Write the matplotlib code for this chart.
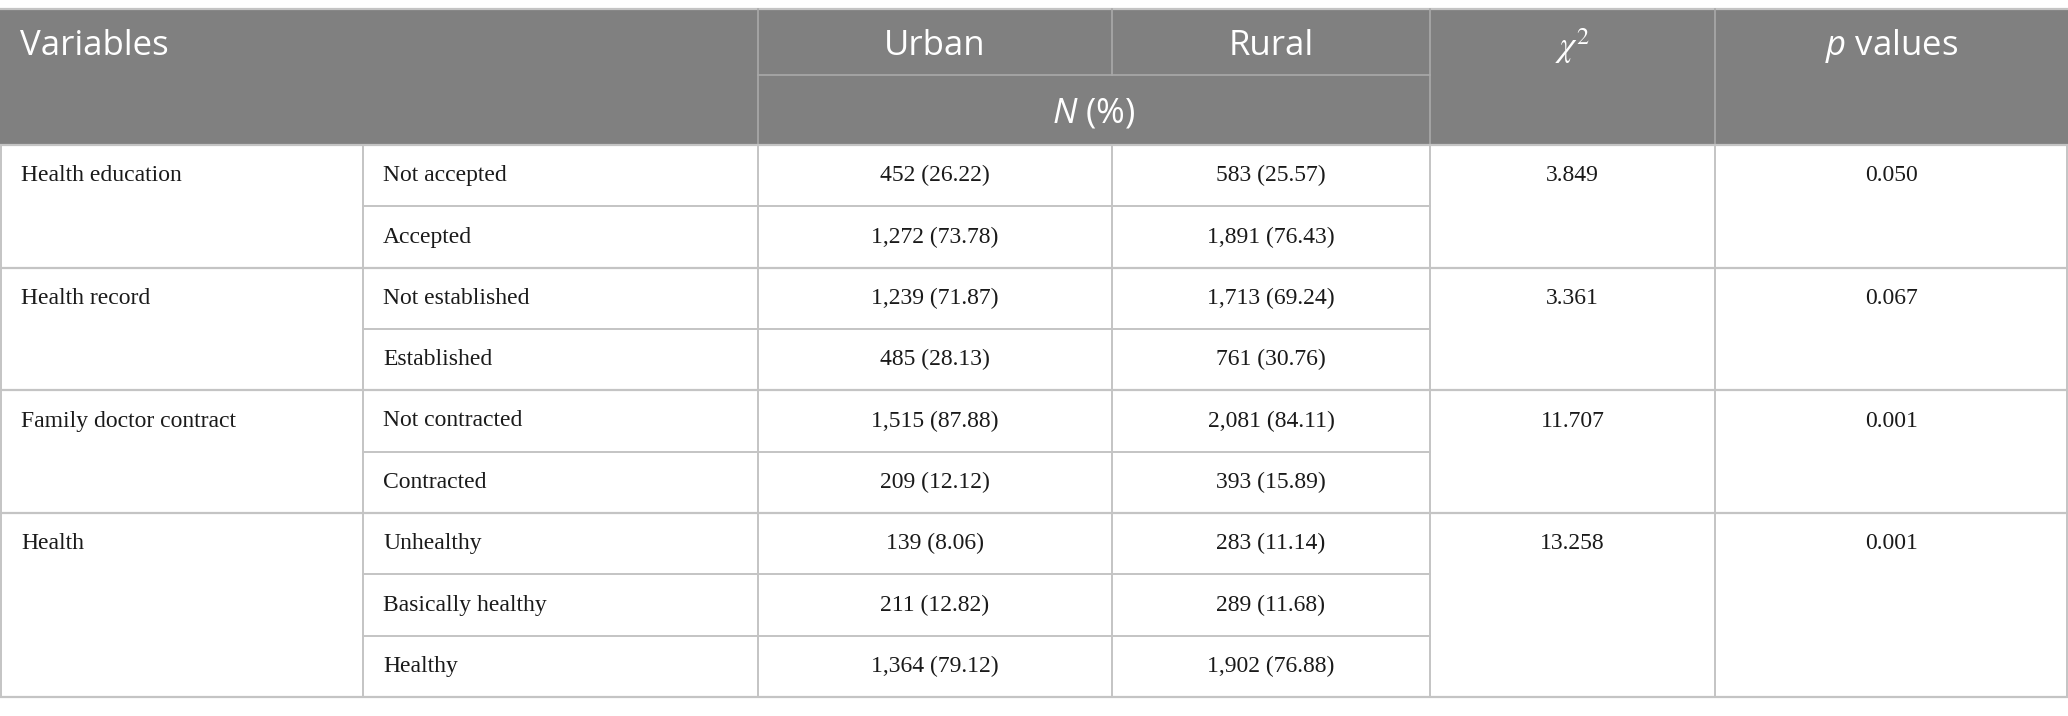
import matplotlib
matplotlib.use("Agg")
import matplotlib.pyplot as plt
from matplotlib.patches import Rectangle

# ---- data ----
variables = ["Health education", "Health record", "Family doctor contract", "Health"]
categories = [
    ["Not accepted", "Accepted"],
    ["Not established", "Established"],
    ["Not contracted", "Contracted"],
    ["Unhealthy", "Basically healthy", "Healthy"],
]
urban_n = [452, 1272, 1239, 485, 1515, 209, 139, 211, 1364]
urban_pct = [26.22, 73.78, 71.87, 28.13, 87.88, 12.12, 8.06, 12.82, 79.12]
rural_n = [583, 1891, 1713, 761, 2081, 393, 283, 289, 1902]
rural_pct = [25.57, 76.43, 69.24, 30.76, 84.11, 15.89, 11.14, 11.68, 76.88]
chi2_vals = ["3.849", "3.361", "11.707", "13.258"]
p_vals = ["0.050", "0.067", "0.001", "0.001"]
header_labels = ["Variables", "Urban", "Rural", r"$\chi^2$", "$p$ values"]
subheader = "$N$ (%)"

# ---- layout (pixels) ----
W, H = 2068, 716
col_edges = [0, 363, 758, 1112, 1430, 1715, 2068]
top, mid, hdr_bot, bottom = 9, 75, 145, 697
n_rows = sum(len(c) for c in categories)
row_h = (bottom - hdr_bot) / n_rows

HDR_BG = "#808080"
HDR_LINE = "#a9a9a9"
GRID = "#c4c4c4"
TXT = "#1a1a1a"
serif = ["Liberation Serif", "DejaVu Serif"]
sans = ["Open Sans", "DejaVu Sans"]
plt.rcParams["mathtext.fontset"] = "custom"
plt.rcParams["mathtext.it"] = "Open Sans:italic"
plt.rcParams["mathtext.rm"] = "Open Sans"

fig = plt.figure(figsize=(W / 100, H / 100), dpi=100)
ax = fig.add_axes([0, 0, 1, 1])
ax.set_xlim(0, W)
ax.set_ylim(H, 0)
ax.axis("off")

# header background
ax.add_patch(Rectangle((0, top), W, hdr_bot - top, facecolor=HDR_BG, edgecolor="none"))
# header lines
ax.plot([0, W], [top, top], color=GRID, lw=1.6)
for x in [col_edges[2], col_edges[4], col_edges[5]]:
    ax.plot([x, x], [top, hdr_bot], color=HDR_LINE, lw=1.2)
ax.plot([col_edges[3], col_edges[3]], [top, mid], color=HDR_LINE, lw=1.2)
ax.plot([col_edges[2], col_edges[4]], [mid, mid], color=HDR_LINE, lw=1.2)

hy = (top + mid) / 2 + 4
hfs = 25
hkw = dict(color="white", fontsize=hfs, family=sans, va="center")
ax.text(col_edges[0] + 20, hy, header_labels[0], ha="left", **hkw)
ax.text((col_edges[2] + col_edges[3]) / 2, hy, header_labels[1], ha="center", **hkw)
ax.text((col_edges[3] + col_edges[4]) / 2, hy, header_labels[2], ha="center", **hkw)
ax.text((col_edges[4] + col_edges[5]) / 2, hy, r"$\mathit{\chi}^{2}$", ha="center",
        color="white", fontsize=hfs, va="center",
        math_fontfamily="stix")
ax.text((col_edges[5] + col_edges[6]) / 2, hy, header_labels[4], ha="center", **hkw)
ax.text((col_edges[2] + col_edges[4]) / 2, (mid + hdr_bot) / 2 + 3, subheader,
        ha="center", **hkw)

# body
bfs = 17
r = 0
bkw = dict(fontsize=bfs, family=serif, color=TXT, va="center")
ax.plot([0, W], [hdr_bot, hdr_bot], color=GRID, lw=1.6)
for g, (var, cats) in enumerate(zip(variables, categories)):
    g_top = hdr_bot + r * row_h
    first_center = g_top + row_h / 2
    ax.text(col_edges[0] + 21, first_center, var, ha="left", **bkw)
    ax.text((col_edges[4] + col_edges[5]) / 2, first_center, chi2_vals[g], ha="center", **bkw)
    ax.text((col_edges[5] + col_edges[6]) / 2, first_center, p_vals[g], ha="center", **bkw)
    for k, cat in enumerate(cats):
        yc = hdr_bot + (r + 0.5) * row_h
        ax.text(col_edges[1] + 20, yc, cat, ha="left", **bkw)
        ax.text((col_edges[2] + col_edges[3]) / 2, yc,
                f"{urban_n[r]:,} ({urban_pct[r]:.2f})", ha="center", **bkw)
        ax.text((col_edges[3] + col_edges[4]) / 2, yc,
                f"{rural_n[r]:,} ({rural_pct[r]:.2f})", ha="center", **bkw)
        r += 1
        y_line = hdr_bot + r * row_h
        if k < len(cats) - 1:
            ax.plot([col_edges[1], col_edges[4]], [y_line, y_line], color=GRID, lw=1.4)
    g_bot = hdr_bot + r * row_h
    ax.plot([0, W], [g_bot, g_bot], color=GRID, lw=1.6)

for x in col_edges:
    xx = min(max(x, 0.8), W - 0.8)
    ax.plot([xx, xx], [hdr_bot, bottom], color=GRID, lw=1.4)

fig.savefig("out.png", dpi=100)
